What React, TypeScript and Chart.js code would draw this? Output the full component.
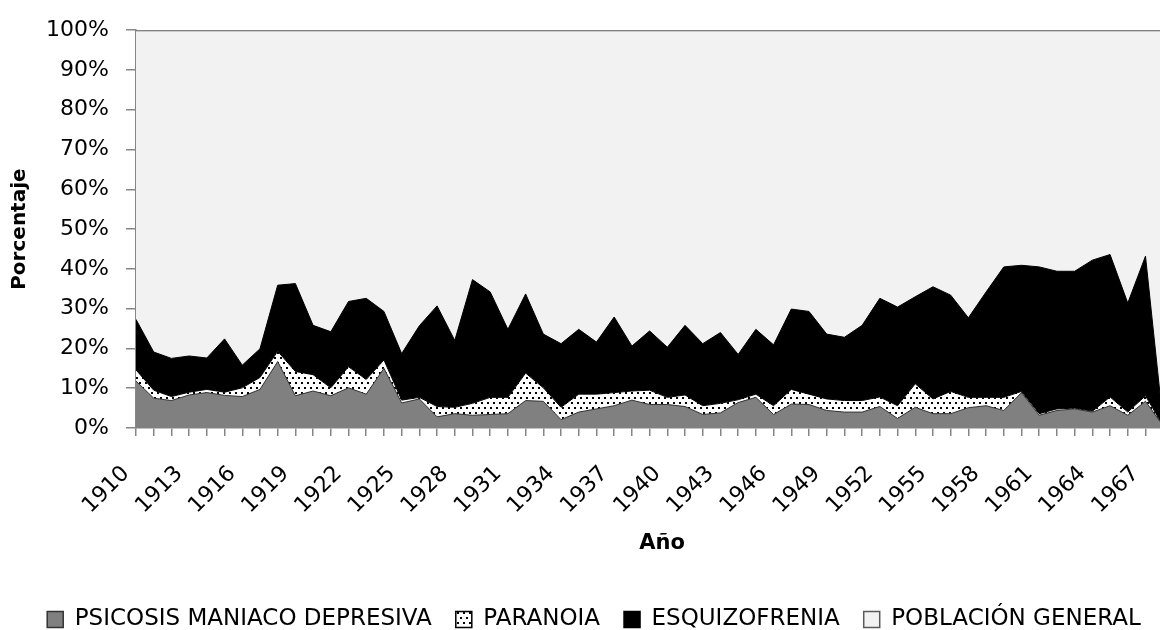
import React, { useEffect, useRef } from 'react';
import { Chart, registerables } from 'chart.js';

Chart.register(...registerables);

const YEARS = [
  1910, 1911, 1912, 1913, 1914, 1915, 1916, 1917, 1918, 1919,
  1920, 1921, 1922, 1923, 1924, 1925, 1926, 1927, 1928, 1929,
  1930, 1931, 1932, 1933, 1934, 1935, 1936, 1937, 1938, 1939,
  1940, 1941, 1942, 1943, 1944, 1945, 1946, 1947, 1948, 1949,
  1950, 1951, 1952, 1953, 1954, 1955, 1956, 1957, 1958, 1959,
  1960, 1961, 1962, 1963, 1964, 1965, 1966, 1967, 1968,
];

const MANIACO = [
  11.8, 7.5, 6.9, 8.3, 8.9, 8.2, 7.9, 9.7, 16.7, 8.1,
  9.3, 8.1, 10.1, 8.5, 15.0, 6.3, 7.3, 2.8, 3.6, 3.2,
  3.4, 3.6, 6.9, 6.7, 2.1, 4.0, 4.8, 5.6, 7.0, 5.9,
  5.9, 5.4, 3.4, 3.8, 6.4, 7.7, 3.4, 6.0, 5.9, 4.4,
  4.0, 4.0, 5.4, 2.4, 5.2, 3.6, 3.6, 5.1, 5.6, 4.4,
  8.9, 3.2, 4.4, 4.8, 4.0, 5.6, 3.2, 6.7, 0.5,
];

const PARANOIA = [
  2.8, 2.0, 1.0, 0.7, 0.8, 0.8, 2.2, 3.0, 2.6, 6.1,
  4.1, 2.0, 5.3, 3.7, 2.1, 0.7, 0.4, 2.6, 1.6, 3.0,
  4.3, 4.1, 6.9, 3.4, 3.1, 4.5, 3.7, 3.3, 2.3, 3.6,
  1.8, 2.9, 2.2, 2.4, 0.7, 0.8, 2.2, 3.7, 2.6, 2.9,
  2.9, 2.9, 2.4, 3.2, 5.9, 3.7, 5.6, 2.6, 2.1, 3.3,
  0.3, 0.4, 0.4, 0.2, 0.2, 2.2, 0.8, 1.4, 0.0,
];

const ESQUIZOFRENIA = [
  12.7, 9.6, 9.6, 9.1, 7.9, 13.4, 5.7, 7.2, 16.6, 22.1,
  12.4, 14.1, 16.4, 20.4, 12.2, 11.7, 18.0, 25.3, 16.8, 31.1,
  26.5, 17.1, 19.9, 13.5, 16.0, 16.3, 13.1, 19.0, 11.3, 14.9,
  12.6, 17.5, 15.6, 17.8, 11.4, 16.3, 15.3, 20.2, 20.8, 16.3,
  15.9, 18.9, 24.8, 24.8, 21.9, 28.2, 24.2, 20.0, 26.5, 32.8,
  31.7, 36.9, 34.6, 34.4, 38.0, 35.8, 27.4, 35.1, 0.5,
];

const POBLACION = [
  72.7, 80.9, 82.5, 81.9, 82.4, 77.6, 84.2, 80.1, 64.1, 63.7,
  74.2, 75.8, 68.2, 67.4, 70.7, 81.3, 74.3, 69.3, 78.0, 62.7,
  65.8, 75.2, 66.3, 76.4, 78.8, 75.2, 78.4, 72.1, 79.4, 75.6,
  79.7, 74.2, 78.8, 76.0, 81.5, 75.2, 79.1, 70.1, 70.7, 76.4,
  77.2, 74.2, 67.4, 69.6, 67.0, 64.5, 66.6, 72.3, 65.8, 59.5,
  59.1, 59.5, 60.6, 60.6, 57.8, 56.4, 68.6, 56.8, 99.0,
];

const SERIES_NAMES = [
  'PSICOSIS MANIACO DEPRESIVA',
  'PARANOIA',
  'ESQUIZOFRENIA',
  'POBLACIÓN GENERAL',
];

const FIRST_LABEL_YEAR = 1910;
const LABEL_STEP = 3;
const Y_TITLE = 'Porcentaje';
const X_TITLE = 'Año';

const FONT = "'DejaVu Sans', Verdana, sans-serif";

export default function App() {
  const canvasRef = useRef<HTMLCanvasElement>(null);

  useEffect(() => {
    const canvas = canvasRef.current;
    if (!canvas) return;
    const ctx = canvas.getContext('2d')!;

    const tile = document.createElement('canvas');
    tile.width = 6;
    tile.height = 10;
    const t = tile.getContext('2d')!;
    t.fillStyle = '#ffffff';
    t.fillRect(0, 0, 6, 10);
    t.fillStyle = '#000000';
    t.fillRect(1, 2, 2, 2);
    t.fillRect(4, 7, 2, 2);
    const dots = ctx.createPattern(tile, 'repeat')!;

    const pts = (arr: number[]) => arr.map((v, i) => ({ x: YEARS[i], y: v }));

    const fills = ['#808080', dots, '#000000', '#f2f2f2'];
    const borders = ['#333333', '#000000', '#000000', '#5a5a5a'];
    const widths = [1, 1, 1, 2];
    const legendStrokes = ['#333333', '#000000', '#000000', '#5a5a5a'];
    const values = [MANIACO, PARANOIA, ESQUIZOFRENIA, POBLACION];

    const chart = new Chart(canvas, {
      type: 'line',
      data: {
        datasets: values.map((arr, i) => ({
          label: SERIES_NAMES[i],
          data: pts(arr),
          backgroundColor: fills[i] as any,
          borderColor: borders[i],
          borderWidth: widths[i],
          fill: i === 0 ? 'origin' : '-1',
          pointRadius: 0,
          pointHoverRadius: 0,
          tension: 0,
        })),
      },
      options: {
        animation: false,
        responsive: true,
        maintainAspectRatio: false,
        events: [],
        layout: { padding: { top: 20, left: 0, right: 0, bottom: 0 } },
        plugins: {
          tooltip: { enabled: false },
          legend: {
            position: 'bottom',
            labels: {
              font: { family: FONT, size: 23 },
              color: '#000000',
              boxWidth: 16,
              boxHeight: 16,
              padding: 24,
              generateLabels: (c: any) => {
                const items = (Chart.defaults as any).plugins.legend.labels.generateLabels(c);
                items.forEach((it: any, i: number) => {
                  it.lineWidth = 1.5;
                  it.strokeStyle = legendStrokes[i];
                });
                return items;
              },
            },
          },
        },
        scales: {
          x: {
            type: 'linear',
            min: 1910,
            max: 1969.4,
            afterBuildTicks: (s: any) => {
              s.ticks = YEARS.map((v) => ({ value: v }));
            },
            ticks: {
              autoSkip: false,
              minRotation: 45,
              maxRotation: 45,
              padding: 15,
              font: { family: FONT, size: 22 },
              color: '#000000',
              callback: (v: any) =>
                (Number(v) - FIRST_LABEL_YEAR) % LABEL_STEP === 0 ? String(v) + '  ' : '',
            },
            grid: {
              drawOnChartArea: false,
              drawTicks: true,
              tickLength: 8,
              tickColor: '#868686',
              lineWidth: 1.5,
            },
            border: { display: true, color: '#868686', width: 1.5 },
            title: {
              display: true,
              text: X_TITLE,
              color: '#000000',
              font: { family: FONT, size: 21, weight: 'bold' },
              padding: { top: 0, bottom: 28 },
            },
            afterFit: (s: any) => {
              s.paddingLeft = 0;
              s.paddingRight = 0;
              s.height = 156;
            },
          } as any,
          y: {
            stacked: true,
            min: 0,
            max: 100,
            ticks: {
              stepSize: 10,
              padding: 17,
              font: { family: FONT, size: 22 },
              color: '#000000',
              callback: (v: any) => v + '%',
            },
            grid: {
              drawOnChartArea: false,
              drawTicks: true,
              tickLength: 10,
              tickColor: '#868686',
              lineWidth: 1.5,
            },
            border: { display: true, color: '#868686', width: 1.5 },
            title: {
              display: true,
              text: Y_TITLE,
              color: '#000000',
              font: { family: FONT, size: 20, weight: 'bold' },
              padding: { top: 8, bottom: 0 },
            },
            afterFit: (s: any) => {
              s.width = 136;
            },
          } as any,
        },
      },
    });

    return () => chart.destroy();
  }, []);

  return (
    <div
      style={{
        position: 'absolute',
        left: 0,
        top: 0,
        width: 1160,
        height: 630,
        overflow: 'hidden',
        background: '#ffffff',
      }}
    >
      <div style={{ position: 'relative', width: 1188, height: 641 }}>
        <canvas ref={canvasRef} />
      </div>
    </div>
  );
}
